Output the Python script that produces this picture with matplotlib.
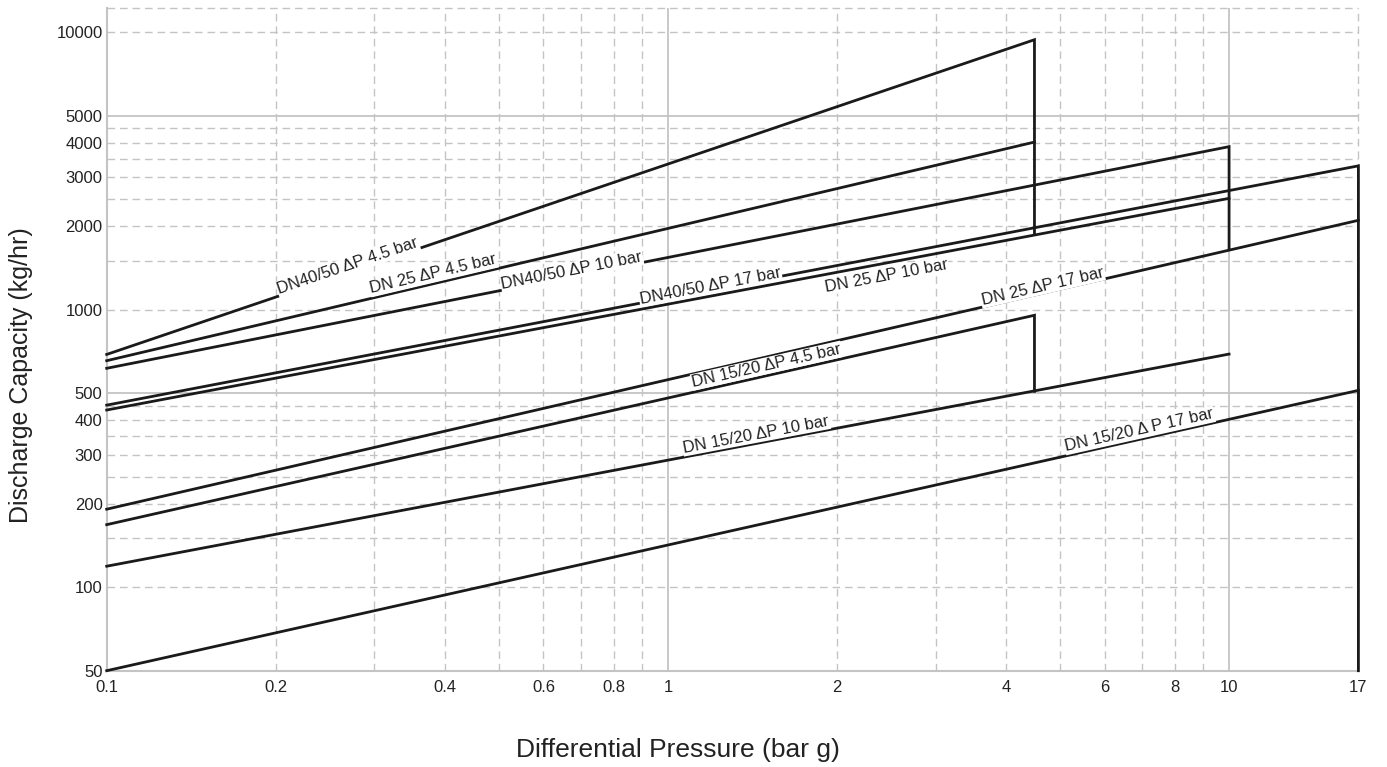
import numpy as np
import matplotlib
matplotlib.use("Agg")
import matplotlib.pyplot as plt
from matplotlib.ticker import NullLocator, FixedLocator, FixedFormatter

plt.rcParams['font.family'] = ['Liberation Sans', 'DejaVu Sans']

# ---- data ----
labels = ["DN40/50 ΔP 4.5 bar", "DN 25 ΔP 4.5 bar", "DN40/50 ΔP 10 bar",
          "DN40/50 ΔP 17 bar", "DN 25 ΔP 10 bar", "DN 25 ΔP 17 bar",
          "DN 15/20 ΔP 4.5 bar", "DN 15/20 ΔP 10 bar", "DN 15/20 Δ P 17 bar"]
p_start = [0.1, 0.1, 0.1, 0.1, 0.1, 0.1, 0.1, 0.1, 0.1]
p_max = [4.5, 4.5, 10, 17, 10, 17, 4.5, 10, 17]
cap_start = [690, 655, 615, 453, 435, 191, 168, 119, 50]
cap_end = [9400, 4020, 3870, 3300, 2520, 2100, 955, 692, 512]
drop_to = [1880, None, 1660, 50, None, None, 508, None, 403]

label_x = [0.269, 0.382, 0.674, 1.19, 2.45, 4.65, 1.50, 1.436, 6.92]
label_dy = [6.5, 9.5, 6, 4, -13, 7, 10, 9, 9]   # pixel offset of label centre

x_ticks = [0.1, 0.2, 0.4, 0.6, 0.8, 1, 2, 4, 6, 8, 10, 17]
x_ticklabels = ["0.1", "0.2", "0.4", "0.6", "0.8", "1", "2", "4", "6", "8", "10", "17"]
y_ticks = [50, 100, 200, 300, 400, 500, 1000, 2000, 3000, 4000, 5000, 10000]
y_ticklabels = ["50", "100", "200", "300", "400", "500", "1000", "2000", "3000",
                "4000", "5000", "10000"]

x_grid_dashed = [0.2, 0.3, 0.4, 0.5, 0.6, 0.7, 0.8, 0.9, 2, 3, 4, 5, 6, 7, 8, 9, 17]
x_grid_solid = [1, 10]
y_grid_dashed = [100, 150, 200, 250, 300, 350, 400, 450,
                 1000, 1500, 2000, 2500, 3000, 3500, 4000, 4500, 10000, 12200]
y_grid_solid = [500, 5000]

x_lim = (0.1, 17)
y_lim = (50, 12200)

# ---- figure ----
fig = plt.figure(figsize=(13.87, 7.67), dpi=100)
W, H = 1387, 767
ax = fig.add_axes([106.7 / W, 1 - 670.7 / H, (1358.4 - 106.7) / W, (670.7 - 8.3) / H])
ax.set_xscale('log')
ax.set_yscale('log')
ax.set_xlim(*x_lim)
ax.set_ylim(*y_lim)

grid_col = '#c4c4c4'
for gx in x_grid_dashed:
    ax.axvline(gx, color=grid_col, lw=1.0, ls=(0, (5.5, 3.5)), zorder=0, clip_on=False)
for gx in x_grid_solid:
    ax.axvline(gx, color=grid_col, lw=1.3, zorder=0)
for gy in y_grid_dashed:
    ax.axhline(gy, color=grid_col, lw=1.0, ls=(0, (5.5, 3.5)), zorder=0, clip_on=False)
for gy in y_grid_solid:
    ax.axhline(gy, color=grid_col, lw=1.3, zorder=0)

for s in ['top', 'right']:
    ax.spines[s].set_visible(False)
for s in ['left', 'bottom']:
    ax.spines[s].set_color(grid_col)
    ax.spines[s].set_linewidth(1.5)

ax.xaxis.set_major_locator(FixedLocator(x_ticks))
ax.xaxis.set_major_formatter(FixedFormatter(x_ticklabels))
ax.xaxis.set_minor_locator(NullLocator())
ax.yaxis.set_major_locator(FixedLocator(y_ticks))
ax.yaxis.set_major_formatter(FixedFormatter(y_ticklabels))
ax.yaxis.set_minor_locator(NullLocator())
ax.tick_params(axis='x', length=0, pad=7, labelsize=12, labelcolor='#222222')
ax.tick_params(axis='y', length=0, pad=3, labelsize=12, labelcolor='#222222')

# ---- curves ----
for i in range(len(labels)):
    xs = [p_start[i], p_max[i]]
    ys = [cap_start[i], cap_end[i]]
    if drop_to[i] is not None:
        xs.append(p_max[i])
        ys.append(drop_to[i])
    ax.plot(xs, ys, color='#1a1a1a', lw=2.0, zorder=3, clip_on=False,
            solid_joinstyle='miter')

# ---- labels along curves ----
fig.canvas.draw()
for i in range(len(labels)):
    slope = np.log10(cap_end[i] / cap_start[i]) / np.log10(p_max[i] / p_start[i])
    lx = label_x[i]
    ly = cap_start[i] * (lx / p_start[i]) ** slope
    p0 = ax.transData.transform((p_start[i], cap_start[i]))
    p1 = ax.transData.transform((p_max[i], cap_end[i]))
    ang = np.degrees(np.arctan2(p1[1] - p0[1], p1[0] - p0[0]))
    ax.annotate(labels[i], xy=(lx, ly), xytext=(0, label_dy[i]),
                textcoords='offset pixels', ha='center', va='center',
                rotation=ang, rotation_mode='anchor', fontsize=12,
                color='#222222', zorder=5,
                bbox=dict(facecolor='white', edgecolor='none', pad=0.6))

# ---- axis labels ----
ax.set_xlabel("Differential Pressure (bar g)", fontsize=19, color='#222222')
ax.xaxis.set_label_coords(0.4564, -0.1016)
ax.set_ylabel("Discharge Capacity (kg/hr)", fontsize=18, color='#222222')
ax.yaxis.set_label_coords(-0.0589, 0.4457)

fig.savefig("out.png", dpi=100)
